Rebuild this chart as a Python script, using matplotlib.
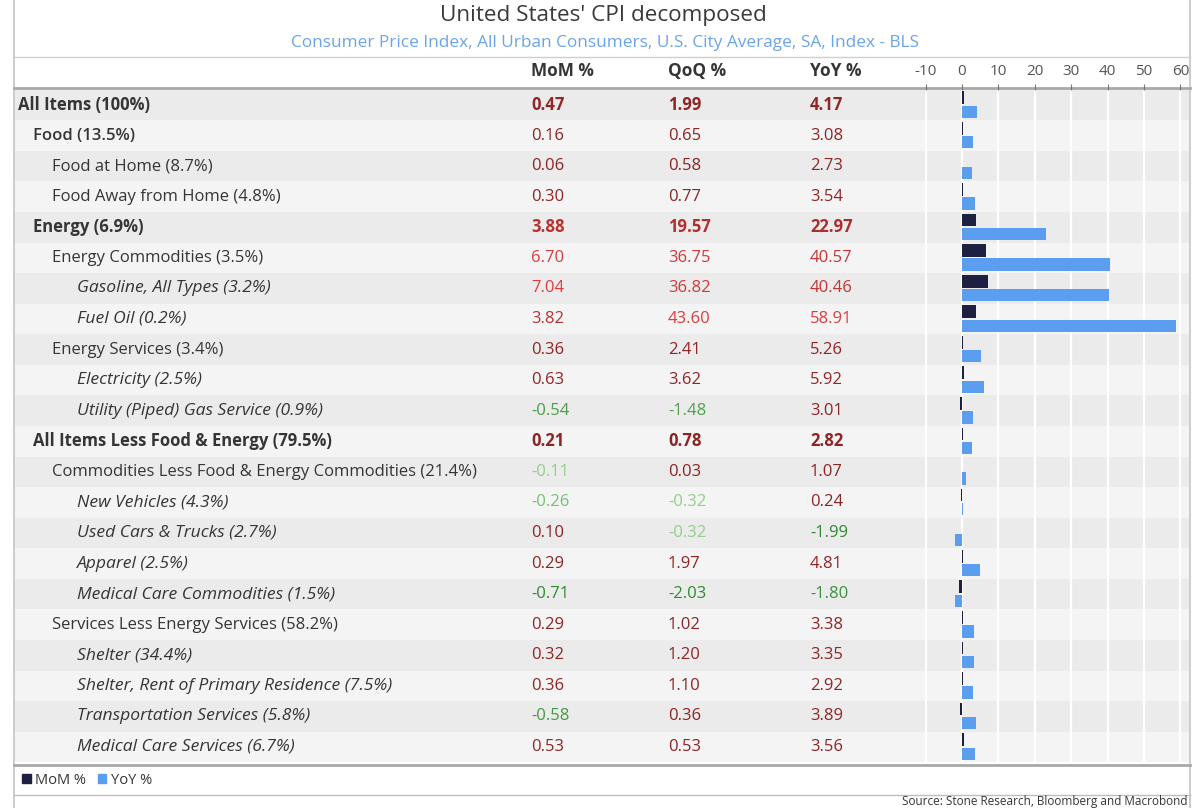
import matplotlib
matplotlib.use("Agg")
import matplotlib.pyplot as plt
from matplotlib.patches import Patch
from matplotlib.colors import to_rgb
from matplotlib import font_manager as fm
import numpy as np

def weights_of(fam):
    ws = set()
    for f in fm.fontManager.ttflist:
        if f.name == fam:
            w = f.weight
            if isinstance(w, str):
                w = {"normal": 400, "regular": 400, "bold": 700, "semibold": 600,
                     "demibold": 600, "medium": 500, "light": 300}.get(w, 400)
            ws.add(int(w))
    return ws

FAM = "DejaVu Sans"
for cand in ["Open Sans", "Noto Sans", "Lato", "DejaVu Sans"]:
    if 700 in weights_of(cand):
        FAM = cand
        break
plt.rcParams['font.family'] = [FAM, 'DejaVu Sans']
SEMI = 600 if 600 in weights_of(FAM) else "normal"

# ---------------- data ----------------
labels = [
    "All Items (100%)", "Food (13.5%)", "Food at Home (8.7%)", "Food Away from Home (4.8%)",
    "Energy (6.9%)", "Energy Commodities (3.5%)", "Gasoline, All Types (3.2%)", "Fuel Oil (0.2%)",
    "Energy Services (3.4%)", "Electricity (2.5%)", "Utility (Piped) Gas Service (0.9%)",
    "All Items Less Food & Energy (79.5%)", "Commodities Less Food & Energy Commodities (21.4%)",
    "New Vehicles (4.3%)", "Used Cars & Trucks (2.7%)", "Apparel (2.5%)",
    "Medical Care Commodities (1.5%)", "Services Less Energy Services (58.2%)",
    "Shelter (34.4%)", "Shelter, Rent of Primary Residence (7.5%)",
    "Transportation Services (5.8%)", "Medical Care Services (6.7%)",
]
levels = [0, 1, 2, 2, 1, 2, 3, 3, 2, 3, 3, 1, 2, 3, 3, 3, 3, 2, 3, 3, 3, 3]
bold_rows = [0, 4, 11]
semi_rows = [1]

mom = [0.47, 0.16, 0.06, 0.30, 3.88, 6.70, 7.04, 3.82, 0.36, 0.63, -0.54, 0.21, -0.11,
       -0.26, 0.10, 0.29, -0.71, 0.29, 0.32, 0.36, -0.58, 0.53]
qoq = [1.99, 0.65, 0.58, 0.77, 19.57, 36.75, 36.82, 43.60, 2.41, 3.62, -1.48, 0.78, 0.03,
       -0.32, -0.32, 1.97, -2.03, 1.02, 1.20, 1.10, 0.36, 0.53]
yoy = [4.17, 3.08, 2.73, 3.54, 22.97, 40.57, 40.46, 58.91, 5.26, 5.92, 3.01, 2.82, 1.07,
       0.24, -1.99, 4.81, -1.80, 3.38, 3.35, 2.92, 3.89, 3.56]

col_headers = ["MoM %", "QoQ %", "YoY %"]
bar_ticks = [-10, 0, 10, 20, 30, 40, 50, 60]

title = "United States' CPI decomposed"
subtitle = "Consumer Price Index, All Urban Consumers, U.S. City Average, SA, Index - BLS"
source = "Source: Stone Research, Bloomberg and Macrobond"

# ---------------- style ----------------
W, H = 1200, 808
MOM_C = "#1d2040"
YOY_C = "#5b9ef0"
TXT = "#353535"
BAND_A = "#ebebeb"
BAND_B = "#f4f4f4"

def mix(c1, c2, t):
    a, b = np.array(to_rgb(c1)), np.array(to_rgb(c2))
    return tuple(a + (b - a) * min(max(t, 0), 1))

def val_color(v, col):
    vmax = max(col)
    vmin = min(col)
    if v >= 0:
        return mix("#8a2424", "#e03c3c", v / vmax)
    return mix("#a6dc9c", "#2f8a2f", v / vmin if vmin < 0 else 0)

fig = plt.figure(figsize=(W / 100, H / 100), dpi=100)
fig.patch.set_facecolor("white")

lay = fig.add_axes([0, 0, 1, 1])
lay.set_xlim(0, W)
lay.set_ylim(H, 0)
lay.axis("off")

n = len(labels)
row_h = 30.57
top_px = 105 - row_h / 2
bot_px = top_px + row_h * n

def fig_rect(x0, x1):
    return [x0 / W, 1 - bot_px / H, (x1 - x0) / W, (bot_px - top_px) / H]

tab = fig.add_axes(fig_rect(0, W), zorder=1)
tab.set_xlim(0, W)
tab.set_ylim(n - 0.5, -0.5)
tab.axis("off")
tab.patch.set_alpha(0)

for i in range(n):
    tab.axhspan(i - 0.5, i + 0.5, xmin=15 / W, xmax=1189 / W,
                color=BAND_A if i % 2 == 0 else BAND_B, lw=0, zorder=0)

FS = 12
FS_IT = 12.6
lvl_x = {0: 18, 1: 33, 2: 52, 3: 77}
col_x = [531, 668, 810]
for i in range(n):
    vweight = "bold" if i in bold_rows else "normal"
    lweight = "bold" if i in bold_rows else (SEMI if i in semi_rows else "normal")
    italic = levels[i] == 3
    tab.text(lvl_x[levels[i]], i, labels[i], fontsize=FS_IT if italic else FS, color=TXT,
             weight=lweight, style="italic" if italic else "normal",
             va="center", ha="left")
    for cx, col in zip(col_x, [mom, qoq, yoy]):
        v = col[i]
        tab.text(cx, i, f"{v:.2f}", fontsize=FS, color=val_color(v, col),
                 weight=vweight, va="center", ha="left")

x0_px, px_per = 962, 3.64
xl = (-10.2, 61.5)
bar = fig.add_axes(fig_rect(x0_px + xl[0] * px_per, x0_px + xl[1] * px_per), zorder=2)
bar.set_xlim(*xl)
bar.set_ylim(n - 0.5, -0.5)
bar.patch.set_alpha(0)
for s in bar.spines.values():
    s.set_visible(False)
for t in bar_ticks:
    bar.axvline(t, color="white", lw=1.6, zorder=0)
ypos = np.arange(n)
bar.barh(ypos - 0.24, mom, height=0.42, color=MOM_C, zorder=3)
bar.barh(ypos + 0.22, yoy, height=0.40, color=YOY_C, zorder=3)
bar.xaxis.tick_top()
bar.set_xticks(bar_ticks)
bar.set_xticklabels([str(t) for t in bar_ticks])
bar.tick_params(axis="x", top=True, bottom=False, direction="out", length=4,
                width=0.8, color="#777777", labelsize=11, labelcolor="#555555", pad=4)
bar.set_yticks([])

for cx, h in zip(col_x, col_headers):
    lay.text(cx, 71, h, fontsize=12.4, weight="bold", color=TXT, va="center", ha="left")

lay.text(603, 16, title, fontsize=16.2, color="#3a3a3a", ha="center", va="center")
lay.text(605, 43, subtitle, fontsize=12.4, color="#6aa4ea", ha="center", va="center")

lay.plot([14, 14], [0, H], color="#c4c4c4", lw=1.2)
lay.plot([1190, 1190], [0, H], color="#c4c4c4", lw=1.2)
lay.plot([14, 1190], [57, 57], color="#cfcfcf", lw=1.0)
lay.plot([14, 1190], [88, 88], color="#a8a8a8", lw=2.0)
lay.plot([14, 1190], [764.5, 764.5], color="#a8a8a8", lw=2.0)
lay.plot([14, 1190], [795, 795], color="#bdbdbd", lw=1.0)

handles = [Patch(color=MOM_C, label="MoM %"), Patch(color=YOY_C, label="YoY %")]
fig.legend(handles=handles, loc="center left", bbox_to_anchor=(16 / W, 1 - 780 / H),
           ncol=2, frameon=False, fontsize=10.5, handlelength=0.6, handleheight=0.6,
           handletextpad=0.3, columnspacing=0.8, labelcolor=TXT, borderaxespad=0)

lay.text(1188, 802, source, fontsize=8.5, color=TXT, ha="right", va="center")

fig.savefig("out.png", dpi=100, facecolor="white")
